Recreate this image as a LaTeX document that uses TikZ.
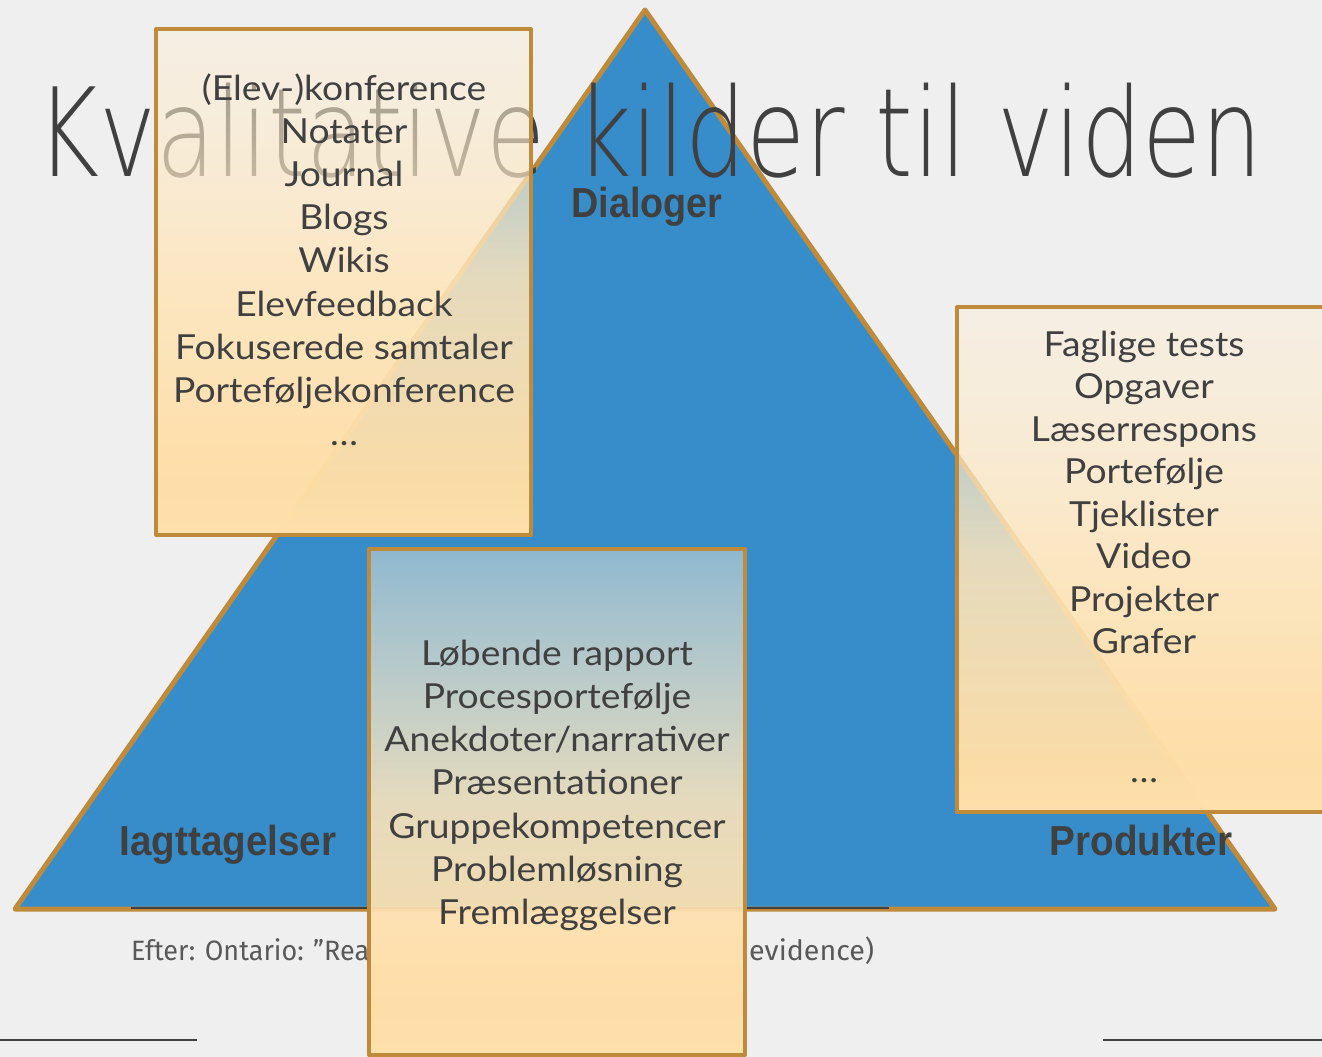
\documentclass[tikz,border=0pt]{standalone}
\usepackage{fontspec}
\setmainfont{Lato}
\IfFontExistsTF{DejaVu Sans ExtraLight}{\newfontfamily\titlefont{DejaVu Sans ExtraLight}}{%
  \IfFontExistsTF{DejaVuSans-ExtraLight.ttf}{\newfontfamily\titlefont{DejaVuSans-ExtraLight.ttf}}{%
    \newfontfamily\titlefont{Fira Sans}}}
\newfontfamily\footfont{Fira Sans}
\newfontfamily\labelfont{Liberation Sans}
\usetikzlibrary{fadings}
\definecolor{bg}{HTML}{EFEFEF}
\definecolor{triblue}{HTML}{368DCA}
\definecolor{gold}{HTML}{BF8B3A}
\definecolor{ink}{HTML}{404040}
\definecolor{footink}{HTML}{595959}
\definecolor{boxtop}{HTML}{FBF8F2}
\definecolor{boxmid}{HTML}{FFDEA6}
\definecolor{boxbot}{HTML}{FFEAC8}
\pgfdeclareverticalshading{boxshade}{100bp}{color(0bp)=(boxbot); color(30bp)=(boxmid); color(100bp)=(boxtop)}
\tikzfading[name=boxfade, top color=transparent!55, bottom color=transparent!0, middle color=transparent!12]
\begin{document}
\begin{tikzpicture}[x=1pt,y=-1pt,
  boxbody/.style={shading=boxshade, path fading=boxfade},
  boxedge/.style={draw=gold, line width=4pt, line join=round},
  item/.style={anchor=base, inner sep=0pt, text=ink, font=\fontsize{34.5}{40}\selectfont},
  corner/.style={anchor=base, inner sep=0pt, text=ink, font=\labelfont\bfseries\fontsize{42}{50}\selectfont},
  foot/.style={anchor=base west, inner sep=0pt, text=footink, font=\footfont\fontsize{28}{32}\selectfont},
  rule/.style={draw=ink, line width=1.4pt}
]
\useasboundingbox (0,0) rectangle (1322,1057);
\fill[bg] (0,0) rectangle (1322,1057);
\clip (0,0) rectangle (1322,1057);
% triangle
\coordinate (apex) at (645,10);
\coordinate (br) at (1275,909);
\coordinate (bl) at (15,909);
\filldraw[fill=triblue, draw=gold, line width=5pt, line join=round] (apex) -- (br) -- (bl) -- cycle;
% footer rule and text
\coordinate (r1a) at (131,908); \coordinate (r1b) at (889,908);
\draw[rule] (r1a) -- (r1b);
\node[foot] (f1) at (131,960) {\resizebox{238pt}{\height}{Efter: Ontario: ”Rea}};
\node[foot] (f2) at (749,960) {\resizebox{125pt}{\height}{evidence)}};
\coordinate (r2a) at (0,1040); \coordinate (r2b) at (197,1040);
\coordinate (r3a) at (1103,1040); \coordinate (r3b) at (1322,1040);
\draw[rule] (r2a) -- (r2b);
\draw[rule] (r3a) -- (r3b);
% title
\node[anchor=base west, inner sep=0pt, text=ink, font=\titlefont\fontsize{123}{150}\selectfont] (title) at (36,176) {\resizebox{1226pt}{\height}{Kvalitative kilder til viden}};
% corner labels
\node[corner] (dlg) at (647,217) {\scalebox{0.9}[1]{Dialoger}};
\node[corner] (iag) at (228,855) {\scalebox{0.92}[1]{Iagttagelser}};
\node[corner] (prd) at (1141,855) {\scalebox{0.92}[1]{Produkter}};
% boxes
\path[boxbody] (156,29) rectangle (531,535);
\draw[boxedge] (156,29) rectangle (531,535);
\path[boxbody] (369,549) rectangle (745,1055);
\draw[boxedge] (369,549) rectangle (745,1055);
\path[boxbody] (957,307) rectangle (1345,812);
\draw[boxedge] (957,307) rectangle (1345,812);
% items
\foreach \t [count=\i from 0] in {{(Elev-)konference},Notater,Journal,Blogs,Wikis,Elevfeedback,Fokuserede samtaler,Porteføljekonference,\ldots}
  \node[item] (L\i) at (344,100+43.2*\i) {\scalebox{1.08}[1]{\t}};
\foreach \t [count=\i from 0] in {Løbende rapport,Procesportefølje,Anekdoter/narrativer,Præsentationer,Gruppekompetencer,Problemløsning,Fremlæggelser}
  \node[item] (M\i) at (557,665+43.3*\i) {\scalebox{1.08}[1]{\t}};
\foreach \t [count=\i from 0] in {Faglige tests,Opgaver,Læserrespons,Portefølje,Tjeklister,Video,Projekter,Grafer}
  \node[item] (R\i) at (1144,356+42.5*\i) {\scalebox{1.08}[1]{\t}};
\node[item] (Rdots) at (1144,782) {\scalebox{1.08}[1]{\ldots}};
\end{tikzpicture}
\end{document}
